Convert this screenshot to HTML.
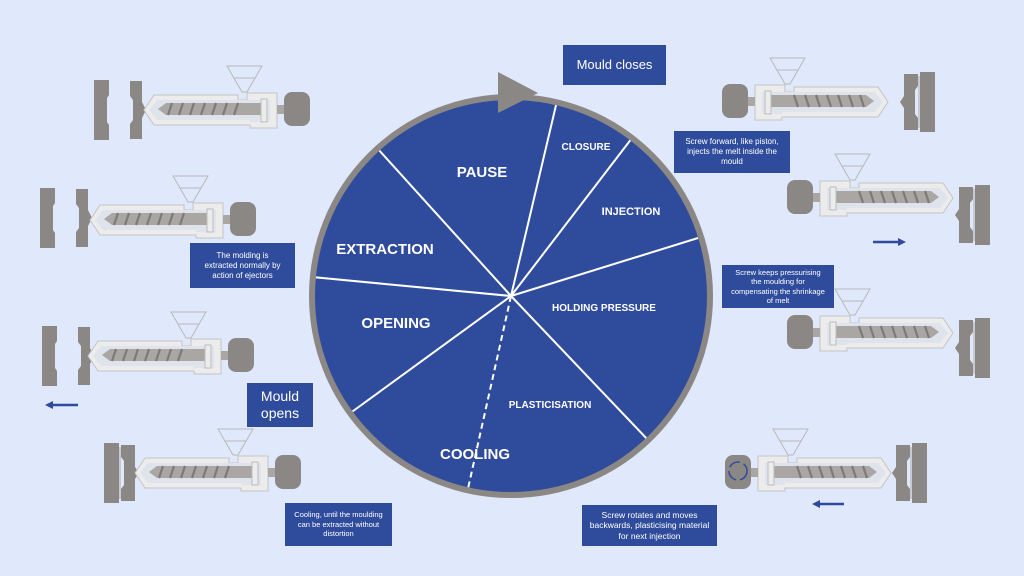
<!DOCTYPE html>
<html><head><meta charset="utf-8"><style>
html,body{margin:0;padding:0;background:#e0e8fb;}
body{width:1024px;height:576px;position:relative;overflow:hidden;font-family:"Liberation Sans",sans-serif;}
.box{position:absolute;background:#2f4b9c;color:#fff;text-align:center;box-sizing:border-box;display:flex;align-items:center;justify-content:center;line-height:1.25;}
</style></head><body>
<svg width="1024" height="576" style="position:absolute;left:0;top:0">
<defs>
<g id="unit">
  <polygon points="147,6 182,6 167,32 162,32" fill="none" stroke="#b9b9b9" stroke-width="1"/>
  <line x1="154" y1="18" x2="175" y2="18" stroke="#b9b9b9"/>
  <path d="M64,50 L74,35 L158,35 L158,40 L167,40 L167,33 L197,33 L197,68 L170,68 L170,65 L74,65 Z" fill="#ececec" stroke="#c4c4c4"/>
  <path d="M69,50 L77,40 L190,40 L190,62 L170,62 L170,60 L77,60 Z" fill="#dfe3ec"/>
  <polygon points="78,49 86,43 184,43 184,55 86,55" fill="#a9a6a3"/>
  <g stroke="#7d7a78" stroke-width="2.2">
   <line x1="88" y1="55" x2="92" y2="43"/><line x1="99" y1="55" x2="103" y2="43"/><line x1="110" y1="55" x2="114" y2="43"/><line x1="121" y1="55" x2="125" y2="43"/><line x1="132" y1="55" x2="136" y2="43"/><line x1="143" y1="55" x2="147" y2="43"/><line x1="154" y1="55" x2="158" y2="43"/>
  </g>
  <rect x="181" y="39" width="6" height="23" fill="#ececec" stroke="#bdbdbd"/>
  <rect x="197" y="45" width="9" height="9" fill="#a9a6a3"/>
  <rect x="204" y="32" width="26" height="34" rx="8" fill="#8a8785"/>
</g>
<g id="mopen">
  <polygon points="0,0 15,0 15,15 13,18 13,42 15,45 15,60 0,60" fill="#8a8785"/>
  <polygon points="36,1 48,1 48,22 52,30 48,38 48,59 36,59 36,44 39,40 39,20 36,16" fill="#8a8785"/>
</g>
<g id="mclosed">
  <polygon points="0,0 15,0 15,60 0,60" fill="#8a8785"/>
  <polygon points="17,2 31,2 31,24 35,30 31,36 31,58 17,58 17,46 20,42 20,18 17,14" fill="#8a8785"/>
  <line x1="16" y1="4" x2="16" y2="56" stroke="#b0adab" stroke-width="1"/>
</g>
</defs>

<use href="#mopen" transform="translate(94,80)"/>
<use href="#unit" transform="translate(80,60)"/>
<use href="#mopen" transform="translate(40,188)"/>
<use href="#unit" transform="translate(26,170)"/>
<use href="#mopen" transform="translate(42,326)"/>
<use href="#unit" transform="translate(24,306)"/>
<use href="#mclosed" transform="translate(104,443)"/>
<use href="#unit" transform="translate(71,423)"/>
<use href="#mclosed" transform="translate(935,72) scale(-1,1)"/>
<use href="#unit" transform="translate(952,52) scale(-1,1)"/>
<use href="#mclosed" transform="translate(990,185) scale(-1,1)"/>
<use href="#unit" transform="translate(1017,148) scale(-1,1)"/>
<use href="#mclosed" transform="translate(990,318) scale(-1,1)"/>
<use href="#unit" transform="translate(1017,283) scale(-1,1)"/>
<use href="#mclosed" transform="translate(927,443) scale(-1,1)"/>
<use href="#unit" transform="translate(955,423) scale(-1,1)"/>
<circle cx="738" cy="471" r="9" fill="none" stroke="#2f4b9c" stroke-width="1.5" stroke-dasharray="12 4"/>

<g stroke="#2f4b9c" stroke-width="2.5" fill="#2f4b9c">
 <line x1="873" y1="242" x2="900" y2="242"/><polygon points="906,242 898,238 898,246" stroke="none"/>
 <line x1="52" y1="405" x2="78" y2="405"/><polygon points="45,405 53,401 53,409" stroke="none"/>
 <line x1="819" y1="504" x2="844" y2="504"/><polygon points="812,504 820,500 820,508" stroke="none"/>
</g>

<circle cx="511" cy="296" r="199" fill="#2f4b9c"/>
<g stroke="#fff" stroke-width="2">
 <line x1="511" y1="296" x2="377" y2="148"/>
 <line x1="511" y1="296" x2="312" y2="277"/>
 <line x1="511" y1="296" x2="349" y2="414"/>
 <line x1="511" y1="296" x2="467" y2="493" stroke-dasharray="6 4"/>
 <line x1="511" y1="296" x2="648" y2="440"/>
 <line x1="511" y1="296" x2="698" y2="238"/>
 <line x1="511" y1="296" x2="632" y2="138"/>
 <line x1="511" y1="296" x2="557" y2="101"/>
</g>
<circle cx="511" cy="296" r="199" fill="none" stroke="#8a8785" stroke-width="6"/>
<polygon points="498,72 498,113 538,93" fill="#8a8785"/>
<g fill="#fff" font-family="Liberation Sans, sans-serif" font-weight="bold" text-anchor="middle">
 <text x="482" y="177" font-size="15">PAUSE</text>
 <text x="385" y="254" font-size="15">EXTRACTION</text>
 <text x="396" y="328" font-size="15">OPENING</text>
 <text x="475" y="459" font-size="15">COOLING</text>
 <text x="586" y="150" font-size="10">CLOSURE</text>
 <text x="631" y="215" font-size="11">INJECTION</text>
 <text x="604" y="311" font-size="10">HOLDING PRESSURE</text>
 <text x="550" y="408" font-size="10">PLASTICISATION</text>
</g>
</svg>

<div class="box" style="left:563px;top:45px;width:103px;height:40px;font-size:13px;">Mould closes</div>
<div class="box" style="left:674px;top:131px;width:116px;height:42px;font-size:8px;padding:0 4px;">Screw forward, like piston, injects the melt inside the mould</div>
<div class="box" style="left:722px;top:265px;width:112px;height:43px;font-size:7.5px;padding:0 8px;">Screw keeps pressurising the moulding for compensating the shrinkage of melt</div>
<div class="box" style="left:190px;top:243px;width:105px;height:45px;font-size:8px;padding:0 10px;">The molding is extracted normally by action of ejectors</div>
<div class="box" style="left:247px;top:383px;width:66px;height:44px;font-size:14px;">Mould<br>opens</div>
<div class="box" style="left:285px;top:503px;width:107px;height:43px;font-size:7.5px;padding:0 6px;">Cooling, until the moulding can be extracted without distortion</div>
<div class="box" style="left:582px;top:505px;width:135px;height:41px;font-size:8.5px;padding:0 6px;">Screw rotates and moves backwards, plasticising material for next injection</div>
</body></html>
